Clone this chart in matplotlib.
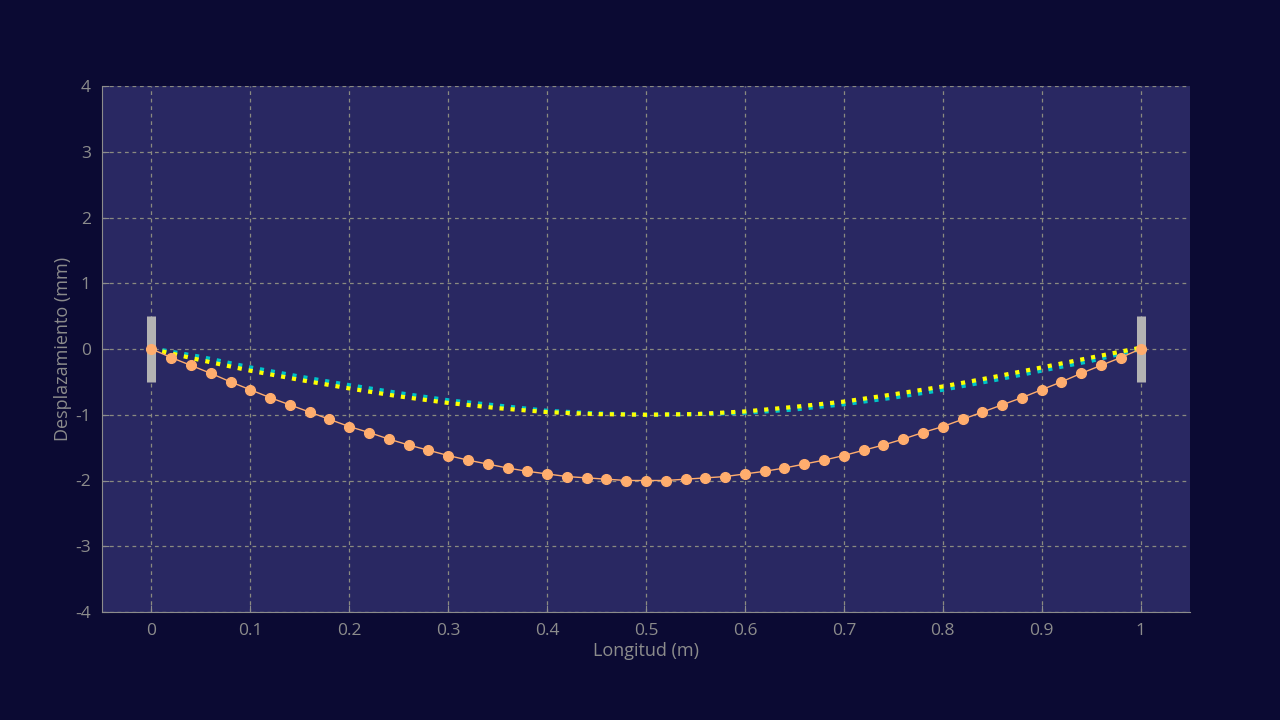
import matplotlib
matplotlib.use("Agg")
import matplotlib.pyplot as plt

# orange: beam deflection, sampled every 0.02 m
x_pts = [i / 50 for i in range(51)]
y_pts = [0, -0.13, -0.25, -0.37, -0.50, -0.62, -0.74, -0.85, -0.96, -1.07, -1.18,
         -1.27, -1.37, -1.46, -1.54, -1.62, -1.69, -1.75, -1.81, -1.86, -1.90,
         -1.94, -1.96, -1.98, -2.00, -2.00, -2.00, -1.98, -1.96, -1.94, -1.90,
         -1.86, -1.81, -1.75, -1.69, -1.62, -1.54, -1.46, -1.37, -1.27, -1.18,
         -1.07, -0.96, -0.85, -0.74, -0.62, -0.50, -0.37, -0.25, -0.13, 0]

# dotted wave snapshots
x_wave = [i / 20 for i in range(21)]
y_yellow = [0, -0.17, -0.33, -0.47, -0.60, -0.72, -0.82, -0.90, -0.96, -0.99, -1.0,
            -0.99, -0.95, -0.88, -0.80, -0.69, -0.57, -0.43, -0.28, -0.13, 0.02]
y_cyan = [0.01, -0.12, -0.28, -0.42, -0.55, -0.67, -0.78, -0.86, -0.94, -0.98, -1.0,
          -0.99, -0.97, -0.92, -0.84, -0.74, -0.62, -0.48, -0.33, -0.18, 0.0]

supports_x = [0, 1]

plt.rcParams['font.family'] = ['Open Sans', 'DejaVu Sans']
plt.rcParams['axes.unicode_minus'] = False
fig = plt.figure(figsize=(12.8, 7.2), dpi=100, facecolor='#0b0a33')
ax = fig.add_axes([102 / 1280, 1 - 612 / 720, 1088 / 1280, 526 / 720])
ax.set_facecolor('#292862')

ax.vlines(supports_x, -0.5, 0.5, color='#b3b3b3', lw=6.5, zorder=3)
ax.plot(x_wave, y_cyan, color='#00c4c8', lw=3, ls=':', zorder=4)
ax.plot(x_wave, y_yellow, color='#ffff00', lw=3, ls=':', zorder=5)
ax.plot(x_pts, y_pts, color='#ffad6e', lw=1, marker='o', ms=7, zorder=6)

ax.set_xlim(-0.05, 1.05)
ax.set_ylim(-4, 4)
ax.set_xticks([0, 0.1, 0.2, 0.3, 0.4, 0.5, 0.6, 0.7, 0.8, 0.9, 1])
ax.set_xticklabels(['0', '0.1', '0.2', '0.3', '0.4', '0.5', '0.6', '0.7', '0.8', '0.9', '1'])
ax.set_yticks(range(-4, 5))
ax.grid(True, color='#8a8a80', ls=(0, (3, 3)), lw=0.9)
for s in ['top', 'right']:
    ax.spines[s].set_visible(False)
for s in ['left', 'bottom']:
    ax.spines[s].set_color('#8c8c8c')
ax.tick_params(direction='in', colors='#8c8c8c', labelsize=12.5, length=5, pad=8)
ax.set_xlabel('Longitud (m)', color='#8c8c8c', fontsize=13, labelpad=2)
ax.set_ylabel('Desplazamiento (mm)', color='#8c8c8c', fontsize=13, labelpad=2)

fig.savefig('out.png', dpi=100, facecolor=fig.get_facecolor())
